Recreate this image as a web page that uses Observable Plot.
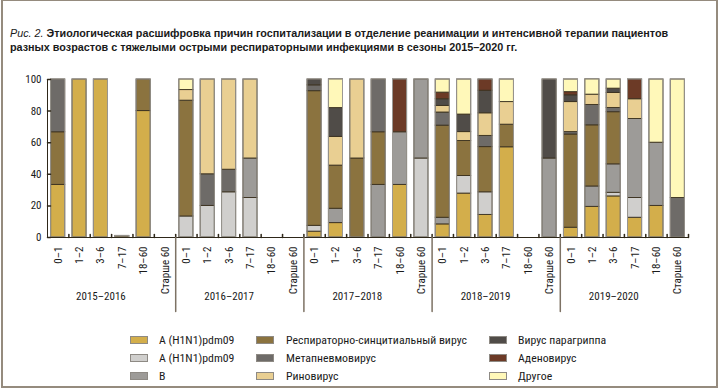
<!DOCTYPE html>
<html><head><meta charset="utf-8">
<script src="https://cdn.jsdelivr.net/npm/d3@7"></script>
<script src="https://cdn.jsdelivr.net/npm/@observablehq/plot@0.6"></script>
<style>
  body{margin:0;background:#fff;}
  #wrap{position:relative;width:720px;height:390px;overflow:hidden;font-family:"Liberation Sans Narrow","Roboto Condensed",Roboto,"Liberation Sans",sans-serif;color:#1a1a1a;}
  #frame{position:absolute;left:1px;top:0;width:717px;height:388px;border:2px solid #958b7e;border-top-width:1px;box-sizing:border-box;}
  #title{position:absolute;left:10px;top:26px;font-family:"Liberation Sans",Arial,sans-serif;font-size:10.8px;line-height:14px;white-space:nowrap;}
  #title b{font-weight:bold;}
  #chart{position:absolute;left:0;top:58px;}
  #legend{position:absolute;left:0;top:0;width:720px;height:390px;pointer-events:none;}
  .li{position:absolute;font-size:11.8px;line-height:12px;white-space:nowrap;}
  .sw{position:absolute;width:18px;height:8px;border:1px solid #8e8a84;box-sizing:border-box;}
</style>
</head><body>
<div id="wrap">
  <div id="frame"></div>
  <div id="title"><i>Рис. 2.</i> <b>Этиологическая расшифровка причин госпитализации в отделение реанимации и интенсивной терапии пациентов</b><br><b>разных возрастов с тяжелыми острыми респираторными инфекциями в сезоны 2015–2020 гг.</b></div>
  <div id="chart"></div>
  <div id="legend"></div>
</div>
<script>
// ---- data ----
const seasons = ["2015–2016", "2016–2017", "2017–2018", "2018–2019", "2019–2020"];
const ages = ["0–1", "1–2", "3–6", "7–17", "18–60", "Старше 60"];
const viruses = ["A (H1N1)pdm09", "A (H1N1)pdm09", "B", "Респираторно-синцитиальный вирус",
  "Метапневмовирус", "Риновирус", "Вирус парагриппа", "Аденовирус", "Другое"];
const yTicks = [0, 20, 40, 60, 80, 100];
// percentages per bar: seasons × ages (6 per season)
const h1n1 = [33.3, 100, 100, 0, 80, 0,   0, 0, 0, 0, 0, 0,   3.7, 9.1, 0, 0, 33.3, 0,   8.3, 27.8, 14.3, 57.1, 0, 0,   6.2, 19.4, 26, 12.5, 20, 0];
const h1n1Light = [0, 0, 0, 0, 0, 0,   13.3, 20, 28.6, 25, 0, 0,   3.7, 0, 0, 0, 0, 50,   0, 11.1, 14.3, 0, 0, 0,   0, 0, 2.3, 12.5, 0, 0];
const fluB = [0, 0, 0, 0, 0, 0,   0, 0, 0, 25, 0, 0,   0, 9.1, 0, 33.3, 33.3, 50,   4.2, 0, 0, 0, 0, 50,   0, 12.9, 18, 50, 40, 0];
const rsv = [33.3, 0, 0, 1, 20, 0,   73.3, 0, 0, 0, 0, 0,   85.2, 27.3, 50, 33.3, 0, 0,   58.3, 22.2, 28.6, 14.3, 0, 0,   59, 38.7, 33, 0, 0, 0];
const metapneumo = [33.4, 0, 0, 0, 0, 0,   0, 20, 14.3, 0, 0, 0,   3.7, 0, 0, 33.4, 0, 0,   8.3, 0, 7.1, 0, 0, 0,   1.5, 12.9, 2.7, 0, 0, 25];
const rhino = [0, 0, 0, 0, 0, 0,   6.7, 60, 57.1, 50, 0, 0,   0, 18.2, 50, 0, 0, 0,   4.2, 5.6, 14.3, 14.3, 0, 0,   19, 6.5, 9.5, 12.5, 0, 0];
const parainfluenza = [0, 0, 0, 0, 0, 0,   0, 0, 0, 0, 0, 0,   3.7, 18.2, 0, 0, 0, 0,   4.2, 11.1, 14.3, 0, 0, 50,   4.3, 0, 2.7, 0, 0, 0];
const adeno = [0, 0, 0, 0, 0, 0,   0, 0, 0, 0, 0, 0,   0, 0, 0, 0, 33.4, 0,   4.2, 0, 7.1, 0, 0, 0,   2, 0, 0, 12.5, 0, 0];
const other = [0, 0, 0, 0, 0, 0,   6.7, 0, 0, 0, 0, 0,   0, 18.2, 0, 0, 0, 0,   8.3, 22.2, 0, 14.3, 0, 0,   8, 9.7, 5.8, 0, 40, 75];

// ---- styles ----
const colors = ["#d3ae4b", "#d0cfcd", "#9d9b98", "#8b733f", "#6e6b68", "#e9cf92", "#504c48", "#6c3a26", "#fff8b9"];

const series = [h1n1, h1n1Light, fluB, rsv, metapneumo, rhino, parainfluenza, adeno, other];
const bars = d3.range(seasons.length * ages.length).map(i => ({
  i, season: seasons[Math.floor(i / ages.length)], age: ages[i % ages.length],
  total: d3.sum(series, s => s[i])
}));
const rows = [];
series.forEach((vals, k) => vals.forEach((v, i) => { if (v > 0) rows.push({k, i, value: v}); }));

const pad = 0.17;
const dark = "#2e2719";
const tickLine = {draw(ctx, l) { ctx.moveTo(0, 0); ctx.lineTo(0, -l); }};
const font = "'Liberation Sans Narrow','Roboto Condensed',Roboto,'Liberation Sans',sans-serif";

const chart = Plot.plot({
  width: 720, height: 265,
  marginLeft: 47, marginRight: 32, marginTop: 21, marginBottom: 86,
  style: {fontFamily: font, fontSize: "11px", color: "#1a1a1a", background: "transparent"},
  x: {domain: [0, bars.length], axis: null},
  y: {domain: [0, 100], axis: null},
  color: {type: "ordinal", domain: d3.range(series.length), range: colors},
  marks: [
    Plot.rectY(rows, Plot.stackY({
      x1: d => d.i + pad, x2: d => d.i + 1 - pad, y: "value", fill: "k",
      stroke: "#3b311f", strokeWidth: 0.9
    })),
    Plot.rectY(bars.filter(d => d.total > 0), {
      x1: d => d.i + pad, x2: d => d.i + 1 - pad, y1: 0, y2: "total",
      fill: "none", stroke: "#9b9893", strokeWidth: 1
    }),
    Plot.ruleY([0], {stroke: dark, strokeWidth: 1.2}),
    Plot.ruleX([0], {y1: 0, y2: 100, stroke: dark}),
    Plot.vector(yTicks, {x: 0, y: d => d, length: 3, rotate: 90, anchor: "start", shape: tickLine, stroke: dark}),
    Plot.vector(d3.range(1, bars.length + 1), {x: d => d, y: 0, length: 3, rotate: 0, anchor: "start", shape: tickLine, stroke: dark}),
    Plot.vector(d3.range(ages.length, bars.length, ages.length), {x: d => d, y: 0, length: 74, rotate: 180, anchor: "start", shape: tickLine, stroke: "#7d7264"}),
    Plot.text(bars, {x: d => d.i + 0.5, y: 0, text: "age", rotate: -90, textAnchor: "end", dy: 9, fill: "#1a1a1a"}),
    Plot.text(seasons, {x: (d, g) => g * ages.length + 2.5, y: 0, text: d => d, dy: 59, fill: "#1a1a1a"}),
    Plot.text(yTicks, {x: 0, y: d => d, text: d => String(d), textAnchor: "end", dx: -6, fill: "#1a1a1a"})
  ]
});
document.getElementById("chart").appendChild(chart);

// ---- legend ----
const legend = document.getElementById("legend");
const colSw = [130, 256, 489], colTx = [159, 286, 518], rowY = [334, 352, 370];
viruses.forEach((name, k) => {
  const c = Math.floor(k / 3), r = k % 3;
  const sw = document.createElement("div");
  sw.className = "sw"; sw.style.left = colSw[c] + "px"; sw.style.top = (rowY[r] + 2) + "px";
  sw.style.background = colors[k];
  legend.appendChild(sw);
  const t = document.createElement("div");
  t.className = "li"; t.style.left = colTx[c] + "px"; t.style.top = rowY[r] + "px";
  t.textContent = name;
  legend.appendChild(t);
});
</script>
</body></html>
